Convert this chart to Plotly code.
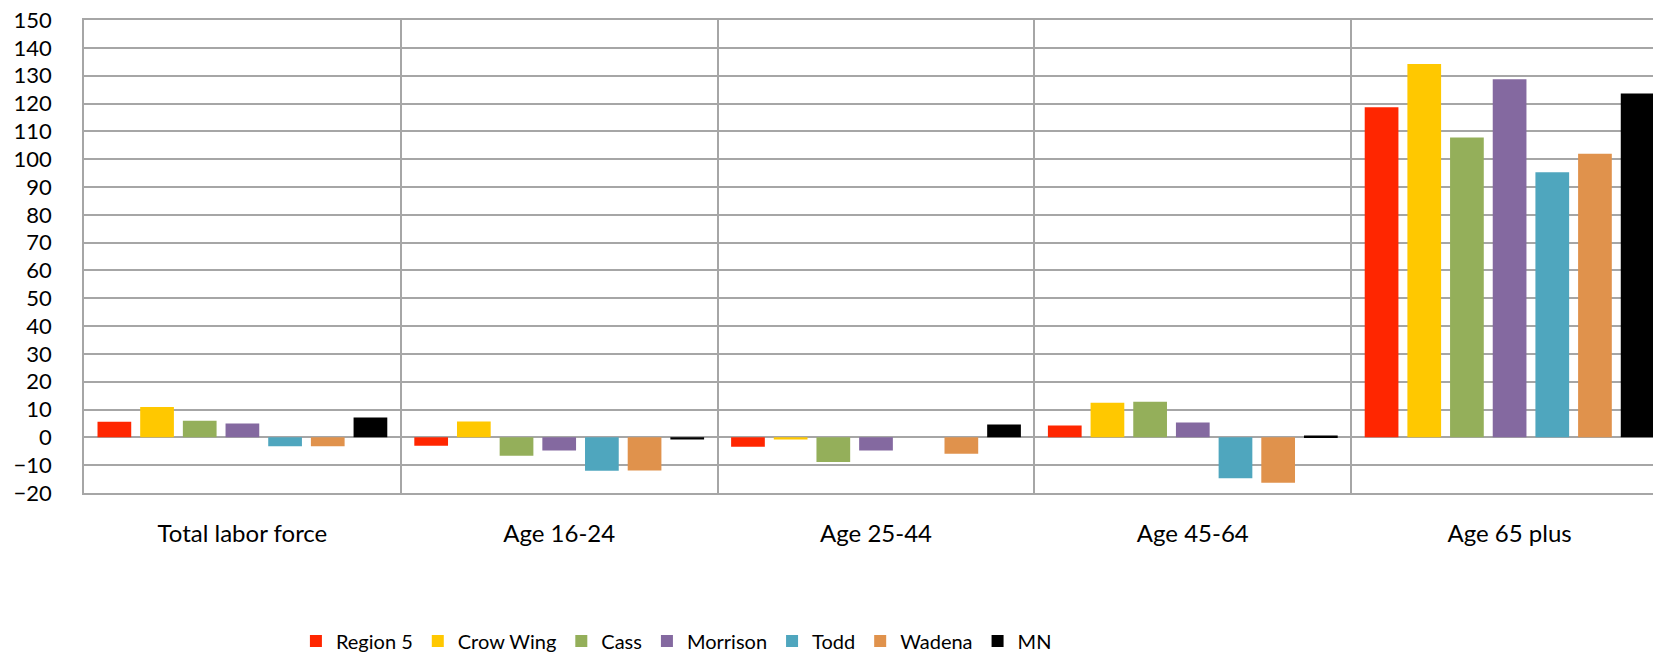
import plotly.graph_objects as go

categories = ["Total labor force", "Age 16-24", "Age 25-44", "Age 45-64", "Age 65 plus"]
series_names = ["Region 5", "Crow Wing", "Cass", "Morrison", "Todd", "Wadena", "MN"]
region5 = [5.6, -3.0, -3.4, 4.3, 118.7]
crow_wing = [10.9, 5.7, -0.8, 12.4, 134.2]
cass = [6.0, -6.6, -8.9, 12.8, 107.8]
morrison = [5.0, -4.7, -4.7, 5.3, 128.7]
todd = [-3.2, -12.0, 0.0, -14.7, 95.3]
wadena = [-3.2, -11.9, -5.9, -16.3, 101.9]
mn = [7.1, -0.8, 4.6, 0.7, 123.6]
y_ticks = list(range(-20, 151, 10))

series_values = [region5, crow_wing, cass, morrison, todd, wadena, mn]
colors = ["#FF2600", "#FFC800", "#94AF5A", "#8469A0", "#4FA6BE", "#E0924C", "#000000"]

fig = go.Figure()
for name, vals, col in zip(series_names, series_values, colors):
    fig.add_trace(go.Bar(name=name, x=categories, y=vals, marker=dict(color=col, line=dict(width=0))))

grid = "#A6A6A6"
fig.update_layout(
    barmode="group",
    bargap=0.057,
    bargroupgap=0.21,
    width=1661, height=662,
    margin=dict(l=76, r=1, t=12, b=177),
    plot_bgcolor="white", paper_bgcolor="white",
    font=dict(family="Lato, Open Sans, sans-serif", color="black"),
    legend=dict(orientation="h", x=0.374, xanchor="center", y=-0.313, yanchor="middle",
                font=dict(size=20), itemwidth=30, traceorder="normal"),
    showlegend=True,
)
fig.update_xaxes(
    type="category", tickson="boundaries", showgrid=True, gridcolor=grid, gridwidth=1.5,
    showline=True, linecolor=grid, linewidth=1.5, mirror=True, automargin=False,
    ticks="", tickfont=dict(size=24), ticklabelstandoff=18,
)
fig.update_yaxes(
    range=[-20, 150.02], tickvals=y_ticks, showgrid=True, gridcolor=grid, gridwidth=1.5,
    zeroline=True, zerolinecolor=grid, zerolinewidth=1.5,
    showline=True, linecolor=grid, linewidth=1.5, mirror=True, automargin=False,
    ticks="", tickfont=dict(size=22), ticklabelstandoff=26,
    ticklabeloverflow="allow",
)
fig.write_html("out.html")
